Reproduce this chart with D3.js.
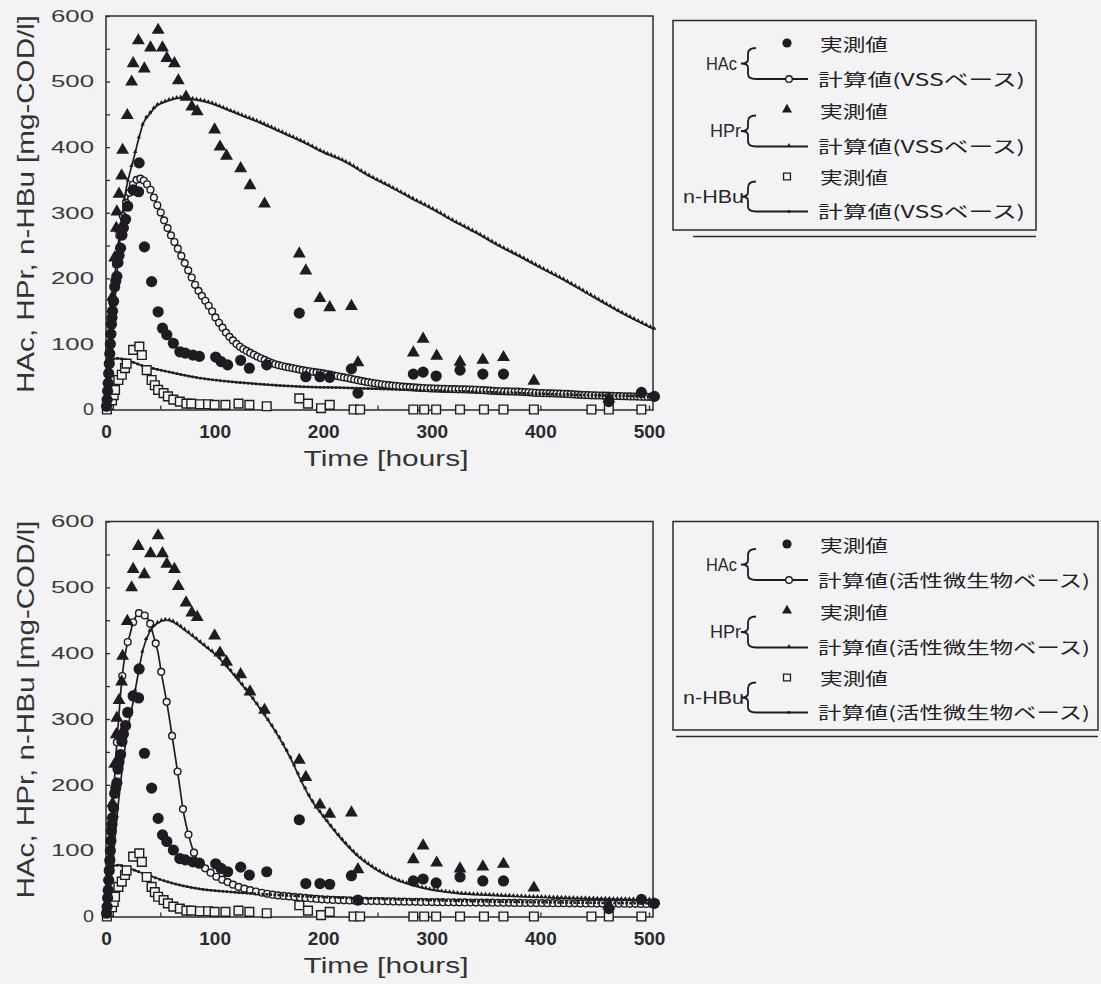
<!DOCTYPE html>
<html>
<head>
<meta charset="utf-8">
<script src="https://cdn.jsdelivr.net/npm/d3@7"></script>
<style>
  body { margin: 0; background: #f3f3f5; }
  svg { display: block; }
</style>
</head>
<body>
<svg id="chart" width="1101" height="984"></svg>
<script>
// ---- measured values (same experiment in both panels) ----
const hacObsT = [0.5, 1, 1.5, 2, 2.5, 3, 3.5, 4, 4.5, 5, 5.5, 6, 7, 8, 9, 10, 11, 12, 13.4, 14.7, 16, 18, 20, 25, 30, 30.5, 35.4, 42, 48, 52, 56, 62, 68, 73, 80, 86, 101, 106, 112, 124, 132, 148, 178, 184, 197, 206, 226, 232, 283, 292, 304, 326, 347, 366, 463, 493, 505];
const hacObsV = [5, 15, 28, 40, 55, 70, 85, 100, 115, 130, 140, 150, 165, 187, 196, 203, 224, 235, 246, 266, 277, 290, 310, 335, 332, 376, 248, 195, 149, 124, 114, 101, 88, 86, 83, 81, 80, 73, 68, 75, 63, 68, 147, 50, 50, 49, 62, 25, 54, 57, 51, 60, 54, 54, 12, 26, 20];

const hprObsT = [6, 8, 9.5, 10, 12, 13.4, 14.4, 15.3, 19.6, 23.6, 25, 29.8, 35.3, 41, 48, 52, 56, 63, 66.6, 73.7, 79, 84, 100, 105, 111, 124, 132.6, 146, 178, 184, 197, 206, 226, 232, 283, 292, 304.5, 326, 347, 366, 394, 463];
const hprObsV = [170, 230, 275, 300, 327, 274, 355, 394, 447, 498, 526, 561, 518, 550, 577, 550, 534, 526, 500, 475, 460, 453, 425, 399, 385, 366, 340, 312, 236, 210, 168, 154, 156, 70, 85, 106, 80, 71, 74, 78, 42, 15];

const hbuObsT = [0.8, 2.7, 5.5, 7.1, 8.3, 11.4, 14.5, 17.5, 19, 25, 30.7, 33, 37.5, 42, 45, 48, 53, 57, 62, 68, 74, 78.5, 86.5, 94, 100, 110, 122, 132, 148, 178, 186, 198, 206, 228, 234, 283, 293, 304, 326, 348, 366, 394, 447, 463, 493];
const hbuObsV = [0, 7, 14, 22, 30, 45, 53, 63, 70, 91, 96, 83, 60, 45, 37, 30, 25, 20, 15, 12, 9, 9, 8, 8, 7, 7, 9, 7, 5, 17, 9, 2, 7, 0, 0, 0, 0, 0, 0, 0, 0, 0, 0, 0, 0];

// ---- model, VSS based (upper panel) ----
const vssHacT = [0, 1, 2, 3, 4, 5, 6, 8, 10, 12, 14, 16, 18, 20, 23, 26, 29, 32, 36, 40, 46, 51, 56, 60, 65, 70, 74, 79, 83, 88, 93, 98, 102, 106, 111, 117, 123, 131, 139, 147, 154, 163, 172, 181, 200, 222, 240, 261, 280, 301, 321, 341, 361, 381, 401, 421, 441, 461, 481, 505];
const vssHacV = [0, 30, 60, 90, 115, 140, 160, 200, 235, 262, 283, 300, 313, 322, 337, 346, 351, 352, 347, 338, 316, 298, 279, 265, 249, 232, 218, 201, 187, 174, 162, 149, 137, 128, 116, 105, 96, 88, 81, 75, 70, 66, 63, 60, 55, 48, 42, 37, 34, 32, 31, 30, 28, 27, 25, 24, 22, 21, 20, 19];
const vssHprT = [0, 2, 4, 6, 8, 10, 12, 14, 16, 19, 22, 26, 30, 34, 40, 46, 53, 60, 70, 80, 96, 110, 125, 142, 166, 182, 200, 222, 240, 261, 280, 301, 320, 341, 360, 381, 400, 421, 446, 476, 505];
const vssHprV = [0, 20, 60, 110, 160, 205, 245, 280, 310, 340, 361, 386, 412, 435, 450, 462, 468, 472, 475, 473, 467, 458, 448, 437, 419, 407, 392, 376, 358, 340, 323, 305, 287, 269, 251, 233, 216, 198, 174, 146, 122];
const vssHbuT = [0, 1, 2, 3, 4, 6, 10, 15, 20, 25, 35, 45, 56, 70, 86, 100, 117, 148, 178, 222, 260, 301, 340, 381, 440, 505];
const vssHbuV = [0, 25, 45, 60, 70, 76, 78, 77, 75, 72, 66, 62, 58, 53, 48, 45, 42, 38, 35, 33, 31, 29, 27, 25, 22, 20];

// ---- model, active biomass based (lower panel) ----
const actHacT = [0, 2, 4, 6.7, 10, 13, 16, 19, 22, 25, 28, 31, 35, 40, 44, 48, 51, 54, 57, 62, 67, 71, 76, 82, 88, 93, 100, 111, 122, 133, 154, 172, 200, 261, 353, 430, 505];
const actHacV = [0, 50, 100, 180, 265, 330, 380, 410, 428, 447, 457, 461, 458, 448, 425, 400, 370, 343, 315, 262, 208, 162, 124, 93, 78, 71, 62, 53, 45, 40, 33, 30, 26, 23, 21, 20, 19];
const actHprT = [0, 5, 10, 15, 20, 25, 30, 34, 40, 47, 56, 62, 74, 93, 102, 111, 130, 148, 160, 170, 180, 188, 200, 215, 231, 245, 261, 292, 323, 354, 415, 505];
const actHprV = [0, 60, 150, 225, 285, 326, 372, 405, 432, 445, 450, 447, 433, 408, 396, 380, 342, 301, 270, 240, 205, 180, 152, 121, 93, 75, 60, 43, 35, 32, 28, 25];
const actHbuT = [0, 1, 2, 3, 4, 7, 12, 20, 30, 40, 56, 70, 86, 117, 166, 250, 350, 505];
const actHbuV = [0, 25, 45, 62, 72, 77, 78, 74, 68, 62, 53, 47, 42, 37, 32, 27, 23, 20];

// ---- axes / legend text ----
const xTicks = [0, 100, 200, 300, 400, 500];
const yTicks = [0, 100, 200, 300, 400, 500, 600];
const xTitle = "Time [hours]";
const yTitle = "HAc, HPr, n-HBu [mg-COD/l]";
const groupLabels = ["HAc", "HPr", "n-HBu"];
const obsLabel = "実測値";
const calcLabels = ["計算値(VSSベース)", "計算値(活性微生物ベース)"];

const ink = "#1f1b20";
const bg = "#f3f3f5";
const svg = d3.select("#chart");

const zip = (t, v) => t.map((d, i) => [d, v[i]]);

const panels = [
  { top: 16, bottom: 409.5,
    calc: [zip(vssHacT, vssHacV), zip(vssHprT, vssHprV), zip(vssHbuT, vssHbuV)],
    hacStep: 3.3,
    legend: { x: 673, y: 20.5, w: 363, h: 209.5, shadowX: 693, calcW: 207 },
    calcText: calcLabels[0] },
  { top: 521.5, bottom: 916.5,
    calc: [zip(actHacT, actHacV), zip(actHprT, actHprV), zip(actHbuT, actHbuV)],
    hacStep: 5.4,
    legend: { x: 673, y: 521.5, w: 425, h: 208.5, shadowX: 676, calcW: 272 },
    calcText: calcLabels[1] }
];

// walk along a drawn path and return points every stepPx in x
function alongPath(node, stepPx) {
  const pts = [];
  const L = node.getTotalLength();
  let next = -Infinity;
  for (let s = 0; s <= L; s += 0.5) {
    const p = node.getPointAtLength(s);
    if (p.x >= next) { pts.push([p.x, p.y]); next = p.x + stepPx; }
  }
  return pts;
}

const triSmall = d3.symbol().type(d3.symbolTriangle).size(8)();
const sqSmall = d3.symbol().type(d3.symbolSquare).size(7)();
const triBig = d3.symbol().type(d3.symbolTriangle).size(72)();
const sqBig = d3.symbol().type(d3.symbolSquare).size(76)();

function drawPanel(p) {
  const g = svg.append("g");
  const x = d3.scaleLinear().domain([0, 500]).range([106, 649]);
  const y = d3.scaleLinear().domain([0, 600]).range([p.bottom, p.top]);
  const right = x(503.7);

  // frame
  g.append("rect")
    .attr("x", x(0)).attr("y", p.top)
    .attr("width", right - x(0)).attr("height", p.bottom - p.top + 0.5)
    .attr("fill", "none").attr("stroke", "#2b2b2d").attr("stroke-width", 1.5);

  // inner ticks every 50
  g.append("g").attr("transform", `translate(${x(0)},0)`)
    .call(d3.axisRight(y).ticks(12).tickSize(4).tickFormat(""))
    .call(a => a.select(".domain").remove())
    .selectAll("line").attr("stroke", "#2b2b2d").attr("stroke-width", 1.3);
  g.append("g").attr("transform", `translate(0,${p.bottom})`)
    .call(d3.axisTop(x).ticks(10).tickSize(4).tickFormat(""))
    .call(a => a.select(".domain").remove())
    .selectAll("line").attr("stroke", "#2b2b2d").attr("stroke-width", 1.3);

  // y tick labels
  g.append("g").attr("transform", `translate(${x(0)},0)`)
    .call(d3.axisLeft(y).tickValues(yTicks).tickSize(0).tickPadding(12))
    .call(a => a.select(".domain").remove())
    .selectAll("text")
    .attr("font-family", "'Liberation Sans', Arial, sans-serif")
    .attr("font-size", 16.5).attr("fill", "#3a3a3c")
    .attr("textLength", d => String(d).length * 16 - 5)
    .attr("lengthAdjust", "spacingAndGlyphs");

  // x tick labels
  g.append("g").attr("transform", `translate(0,${p.bottom})`)
    .call(d3.axisBottom(x).tickValues(xTicks).tickSize(0).tickPadding(15))
    .call(a => a.select(".domain").remove())
    .selectAll("text")
    .attr("font-family", "'Liberation Sans', Arial, sans-serif")
    .attr("font-size", 19).attr("font-weight", "bold").attr("fill", "#2a2a2c");

  // axis titles
  g.append("text")
    .attr("x", 386).attr("y", p.bottom + 56)
    .attr("text-anchor", "middle")
    .attr("font-family", "'Liberation Sans', Arial, sans-serif")
    .attr("font-size", 22).attr("fill", "#333")
    .attr("textLength", 165).attr("lengthAdjust", "spacingAndGlyphs")
    .text(xTitle);
  g.append("text")
    .attr("transform", `translate(34,${p.top - 1 + 189}) rotate(-90)`)
    .attr("text-anchor", "middle")
    .attr("font-family", "'Liberation Sans', Arial, sans-serif")
    .attr("font-size", 24).attr("fill", "#333")
    .attr("textLength", 378).attr("lengthAdjust", "spacingAndGlyphs")
    .text(yTitle);

  // model curves
  const line = d3.line().x(d => x(d[0])).y(d => y(d[1])).curve(d3.curveMonotoneX);
  const paths = p.calc.map(c => g.append("path")
    .datum(c).attr("d", line)
    .attr("fill", "none").attr("stroke", ink).attr("stroke-width", 1.7));

  // markers on model curves
  g.append("g").selectAll("circle")
    .data(alongPath(paths[0].node(), p.hacStep))
    .join("circle")
    .attr("cx", d => d[0]).attr("cy", d => d[1]).attr("r", 3.4)
    .attr("fill", bg).attr("stroke", ink).attr("stroke-width", 1.4);
  g.append("g").selectAll("path")
    .data(alongPath(paths[1].node(), 3.6))
    .join("path")
    .attr("transform", d => `translate(${d[0]},${d[1] - 1})`)
    .attr("d", triSmall).attr("fill", ink);
  g.append("g").selectAll("path")
    .data(alongPath(paths[2].node(), 3.8))
    .join("path")
    .attr("transform", d => `translate(${d[0]},${d[1]})`)
    .attr("d", sqSmall).attr("fill", ink);

  // measured points
  g.append("g").selectAll("path")
    .data(zip(hbuObsT, hbuObsV))
    .join("path")
    .attr("transform", d => `translate(${x(d[0])},${y(d[1])})`)
    .attr("d", sqBig).attr("fill", bg).attr("stroke", ink).attr("stroke-width", 1.4);
  g.append("g").selectAll("circle")
    .data(zip(hacObsT, hacObsV))
    .join("circle")
    .attr("cx", d => x(d[0])).attr("cy", d => y(d[1])).attr("r", 5.6)
    .attr("fill", ink);
  g.append("g").selectAll("path")
    .data(zip(hprObsT, hprObsV))
    .join("path")
    .attr("transform", d => `translate(${x(d[0])},${y(d[1]) - 1})`)
    .attr("d", triBig).attr("fill", ink);

  drawLegend(p.legend, p.calcText);
}

function drawLegend(L, calcText) {
  const g = svg.append("g");
  g.append("rect")
    .attr("x", L.x).attr("y", L.y).attr("width", L.w).attr("height", L.h)
    .attr("fill", "none").attr("stroke", "#2b2b2d").attr("stroke-width", 1.5);
  g.append("line")
    .attr("x1", L.shadowX).attr("x2", L.x + L.w)
    .attr("y1", L.y + L.h + 6.5).attr("y2", L.y + L.h + 6.5)
    .attr("stroke", "#2b2b2d").attr("stroke-width", 1.5);

  const rows = [22.5, 57.5, 90, 125, 156, 190].map(r => L.y + r);
  const labelRight = [737, 741, 744];
  const labelW = [31, 31, 61];
  const cjk = "'Noto Sans CJK JP', 'Noto Sans CJK SC', sans-serif";

  groupLabels.forEach((lab, i) => {
    const ya = rows[i * 2], yb = rows[i * 2 + 1];
    const mid = (ya + yb) / 2 + 3;

    g.append("text")
      .attr("x", labelRight[i] - labelW[i]).attr("y", mid)
      .attr("dominant-baseline", "central")
      .attr("font-family", "'Liberation Sans', Arial, sans-serif")
      .attr("font-size", 18).attr("fill", "#2a2a2c")
      .attr("textLength", labelW[i]).attr("lengthAdjust", "spacingAndGlyphs")
      .text(lab);

    // brace joining both rows, tail runs into the model line
    const t = ya + 5, b = yb + 1, bx = 748;
    g.append("path")
      .attr("d", `M756,${t} Q${bx},${t} ${bx},${t + 6} L${bx},${mid - 4} Q${bx},${mid} ${bx - 7},${mid}` +
        ` Q${bx},${mid} ${bx},${mid + 4} L${bx},${b - 5} Q${bx},${b} 756,${b} L808,${b}`)
      .attr("fill", "none").attr("stroke", ink).attr("stroke-width", 1.8);

    // measured symbol
    if (i === 0) g.append("circle").attr("cx", 787).attr("cy", ya).attr("r", 4.6).attr("fill", ink);
    if (i === 1) g.append("path").attr("transform", `translate(787,${ya - 1})`)
      .attr("d", d3.symbol().type(d3.symbolTriangle).size(44)()).attr("fill", ink);
    if (i === 2) g.append("path").attr("transform", `translate(787,${ya})`)
      .attr("d", d3.symbol().type(d3.symbolSquare).size(48)())
      .attr("fill", bg).attr("stroke", ink).attr("stroke-width", 1.3);

    // model symbol
    if (i === 0) g.append("circle").attr("cx", 789).attr("cy", b).attr("r", 3.3)
      .attr("fill", bg).attr("stroke", ink).attr("stroke-width", 1.4);
    if (i === 1) g.append("path").attr("transform", `translate(789,${b - 1})`).attr("d", triSmall).attr("fill", ink);
    if (i === 2) g.append("path").attr("transform", `translate(789,${b})`).attr("d", sqSmall).attr("fill", ink);

    g.append("text")
      .attr("x", 820).attr("y", ya)
      .attr("dominant-baseline", "central")
      .attr("font-family", cjk).attr("font-size", 17).attr("fill", "#222")
      .attr("textLength", 68).attr("lengthAdjust", "spacingAndGlyphs")
      .text(obsLabel);
    g.append("text")
      .attr("x", 818).attr("y", yb)
      .attr("dominant-baseline", "central")
      .attr("font-family", cjk).attr("font-size", 17).attr("fill", "#222")
      .attr("textLength", L.calcW).attr("lengthAdjust", "spacingAndGlyphs")
      .text(calcText);
  });
}

panels.forEach(drawPanel);
</script>
</body>
</html>
